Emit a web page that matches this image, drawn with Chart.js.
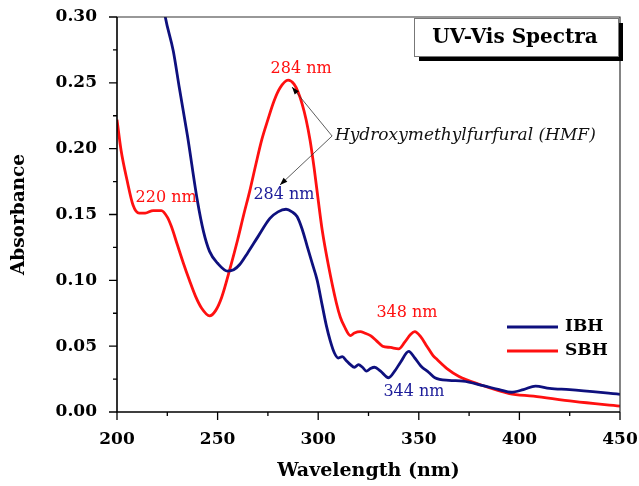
<!DOCTYPE html>
<html>
<head>
<meta charset="utf-8">
<script src="https://cdn.jsdelivr.net/npm/chart.js@4"></script>
<style>
  html, body { margin: 0; padding: 0; background: #fff; }
  #wrap { width: 639px; height: 486px; }
</style>
</head>
<body>
<div id="wrap"><canvas id="grafico"></canvas></div>
<script>
// ======== DADOS ===========
const ibhWave = [220, 224, 228, 231, 235, 240, 243, 246, 250, 255, 258, 261, 265, 270, 276, 280, 284, 287, 289.5,
  292, 294.5, 297, 299.5, 302, 304, 306, 308, 310, 312, 314, 316, 318, 320, 322, 324, 326, 328, 331, 335, 338, 341,
  345, 348, 351, 355, 358, 365, 372, 382, 390, 396, 402, 408, 415, 425, 450];
const ibhAbs = [0.34, 0.30, 0.274, 0.246, 0.21, 0.16, 0.137, 0.122, 0.113, 0.107, 0.108, 0.112, 0.121, 0.133, 0.147,
  0.152, 0.154, 0.152, 0.1485, 0.139, 0.126, 0.113, 0.100, 0.081, 0.066, 0.054, 0.045, 0.041, 0.042, 0.039, 0.036,
  0.034, 0.036, 0.034, 0.031, 0.033, 0.034, 0.031, 0.026, 0.031, 0.038, 0.046, 0.041, 0.035, 0.030, 0.026, 0.024,
  0.0235, 0.020, 0.017, 0.015, 0.017, 0.0197, 0.018, 0.017, 0.0134];

const sbhWave = [200, 202, 205, 208, 211, 214, 218, 222, 225, 227, 230, 233, 236, 239, 242, 246, 249, 252, 256, 260,
  263, 266, 269, 272, 275, 278, 281, 285, 288, 290, 292, 294, 296, 298, 300, 302, 305, 309, 311, 313, 316, 318, 321,
  323, 326, 329, 332, 336, 340, 343, 346, 348, 351, 354, 357, 359, 364, 370, 380, 395, 407, 427, 450];
const sbhAbs = [0.222, 0.199, 0.176, 0.157, 0.151, 0.151, 0.153, 0.153, 0.148, 0.141, 0.127, 0.113, 0.100, 0.088,
  0.079, 0.073, 0.077, 0.087, 0.108, 0.131, 0.150, 0.168, 0.188, 0.207, 0.222, 0.236, 0.246, 0.252, 0.249, 0.243,
  0.234, 0.222, 0.206, 0.185, 0.161, 0.138, 0.112, 0.083, 0.072, 0.065, 0.058, 0.060, 0.061, 0.060, 0.058, 0.054,
  0.050, 0.049, 0.048, 0.053, 0.059, 0.061, 0.057, 0.050, 0.043, 0.040, 0.033, 0.027, 0.021, 0.014, 0.012, 0.008,
  0.0045];

const xMajor = [200, 250, 300, 350, 400, 450];
const xMinor = [225, 275, 325, 375, 425];
const yMajor = [0, 0.05, 0.10, 0.15, 0.20, 0.25, 0.30];
const yMinor = [0.025, 0.075, 0.125, 0.175, 0.225, 0.275];

const seriesNames = ['IBH', 'SBH'];
const seriesColors = ['#0e107e', '#ff1010'];

// rótulos dos picos: [texto, cor, x (nm), y (abs)]
const peakLabels = [
  ['220 nm', '#ff1010', 224.4, 0.1625],
  ['284 nm', '#1c1c99', 283.0, 0.1648],
  ['284 nm', '#ff1010', 291.5, 0.2605],
  ['348 nm', '#ff1010', 344.1, 0.0752],
  ['344 nm', '#1c1c99', 347.6, 0.0152]
];
const hmfText = 'Hydroxymethylfurfural (HMF)';
const hmfAt = [308.3, 0.2096];
const arrowFrom = [306.9, 0.2096];
const arrowTips = [[287.0, 0.2468], [281.0, 0.1724]];

const serif = '"DejaVu Serif", serif';

// ======== PLUGIN: moldura, ticks, anotações ===========
const decor = {
  id: 'decor',
  afterDraw(chart) {
    const { ctx, chartArea: a, scales: { x, y } } = chart;
    ctx.save();

    // moldura
    ctx.strokeStyle = '#333';
    ctx.lineWidth = 1.2;
    ctx.beginPath();
    ctx.moveTo(a.left, a.top); ctx.lineTo(a.right, a.top); ctx.lineTo(a.right, a.bottom);
    ctx.stroke();
    ctx.strokeStyle = '#000';
    ctx.lineWidth = 1.6;
    ctx.beginPath();
    ctx.moveTo(a.left, a.top); ctx.lineTo(a.left, a.bottom); ctx.lineTo(a.right, a.bottom);
    ctx.stroke();

    // ticks
    ctx.lineWidth = 1.3;
    ctx.beginPath();
    xMajor.forEach(v => { const p = x.getPixelForValue(v); ctx.moveTo(p, a.bottom); ctx.lineTo(p, a.bottom + 8); });
    xMinor.forEach(v => { const p = x.getPixelForValue(v); ctx.moveTo(p, a.bottom); ctx.lineTo(p, a.bottom + 4); });
    yMajor.forEach(v => { const p = y.getPixelForValue(v); ctx.moveTo(a.left, p); ctx.lineTo(a.left - 8, p); });
    yMinor.forEach(v => { const p = y.getPixelForValue(v); ctx.moveTo(a.left, p); ctx.lineTo(a.left - 4, p); });
    ctx.stroke();

    // rótulos dos picos
    ctx.font = '16px ' + serif;
    ctx.textAlign = 'center';
    ctx.textBaseline = 'middle';
    peakLabels.forEach(([t, c, vx, vy]) => {
      ctx.fillStyle = c;
      ctx.fillText(t, x.getPixelForValue(vx), y.getPixelForValue(vy));
    });

    // texto HMF + setas
    ctx.fillStyle = '#111';
    ctx.font = 'italic 17px ' + serif;
    ctx.textAlign = 'left';
    ctx.fillText(hmfText, x.getPixelForValue(hmfAt[0]), y.getPixelForValue(hmfAt[1]));
    const fx = x.getPixelForValue(arrowFrom[0]), fy = y.getPixelForValue(arrowFrom[1]);
    ctx.strokeStyle = '#333';
    ctx.lineWidth = 0.8;
    arrowTips.forEach(([vx, vy]) => {
      const tx = x.getPixelForValue(vx), ty = y.getPixelForValue(vy);
      ctx.beginPath(); ctx.moveTo(fx, fy); ctx.lineTo(tx, ty); ctx.stroke();
      const ang = Math.atan2(ty - fy, tx - fx);
      ctx.beginPath();
      ctx.moveTo(tx, ty);
      ctx.lineTo(tx - 8 * Math.cos(ang - 0.35), ty - 8 * Math.sin(ang - 0.35));
      ctx.lineTo(tx - 8 * Math.cos(ang + 0.35), ty - 8 * Math.sin(ang + 0.35));
      ctx.closePath();
      ctx.fillStyle = '#000';
      ctx.fill();
    });

    // caixa do título
    const bx = a.right - 206, by = a.top + 1, bw = 204, bh = 38;
    ctx.fillStyle = '#000';
    ctx.fillRect(bx + 5, by + 5, bw, bh);
    ctx.fillStyle = '#fff';
    ctx.fillRect(bx, by, bw, bh);
    ctx.strokeStyle = '#777';
    ctx.lineWidth = 1;
    ctx.strokeRect(bx + 0.5, by + 0.5, bw, bh);
    ctx.fillStyle = '#000';
    ctx.font = 'bold 20px ' + serif;
    ctx.textAlign = 'center';
    ctx.fillText('UV-Vis Spectra', bx + bw / 2 - 1, by + bh / 2 + 1);

    // legenda
    ctx.font = 'bold 17px ' + serif;
    ctx.textAlign = 'left';
    chart.data.datasets.forEach((ds, i) => {
      const ly = a.bottom - 85 + i * 24;
      ctx.strokeStyle = ds.borderColor;
      ctx.lineWidth = 3;
      ctx.beginPath(); ctx.moveTo(a.right - 113, ly); ctx.lineTo(a.right - 62, ly); ctx.stroke();
      ctx.fillStyle = '#000';
      ctx.fillText(ds.label, a.right - 55, ly);
    });
    ctx.restore();
  }
};

// ======== GRÁFICO ===========
new Chart(document.getElementById('grafico'), {
  type: 'line',
  data: {
    datasets: [
      {
        label: seriesNames[0],
        data: ibhWave.map((w, i) => ({ x: w, y: ibhAbs[i] })),
        borderColor: seriesColors[0],
        borderWidth: 2.8,
        pointRadius: 0,
        cubicInterpolationMode: 'monotone'
      },
      {
        label: seriesNames[1],
        data: sbhWave.map((w, i) => ({ x: w, y: sbhAbs[i] })),
        borderColor: seriesColors[1],
        borderWidth: 2.8,
        pointRadius: 0,
        cubicInterpolationMode: 'monotone'
      }
    ]
  },
  options: {
    responsive: true,
    maintainAspectRatio: false,
    animation: false,
    layout: { padding: { top: 17, right: 19, left: 0, bottom: 0 } },
    plugins: { legend: { display: false }, tooltip: { enabled: false } },
    scales: {
      x: {
        type: 'linear',
        min: 200,
        max: 450,
        afterFit: s => { s.height = 74; s.paddingLeft = 0; s.paddingRight = 0; },
        afterBuildTicks: s => { s.ticks = xMajor.map(v => ({ value: v })); },
        grid: { display: false },
        border: { display: false },
        ticks: {
          padding: 9,
          color: '#000',
          font: { family: serif, size: 17, weight: 'bold' },
          callback: v => String(v)
        },
        title: {
          display: true,
          text: 'Wavelength (nm)',
          color: '#000',
          padding: { bottom: 4 },
          font: { family: serif, size: 19, weight: 'bold' }
        }
      },
      y: {
        min: 0,
        max: 0.30,
        afterFit: s => { s.width = 117; s.paddingTop = 0; s.paddingBottom = 0; },
        afterBuildTicks: s => { s.ticks = yMajor.map(v => ({ value: v })); },
        grid: { display: false },
        border: { display: false },
        ticks: {
          padding: 12,
          color: '#000',
          font: { family: serif, size: 17, weight: 'bold' },
          callback: v => v.toFixed(2)
        },
        title: {
          display: true,
          text: 'Absorbance',
          color: '#000',
          padding: { top: 8 },
          font: { family: serif, size: 18.5, weight: 'bold' }
        }
      }
    }
  },
  plugins: [decor]
});
</script>
</body>
</html>
